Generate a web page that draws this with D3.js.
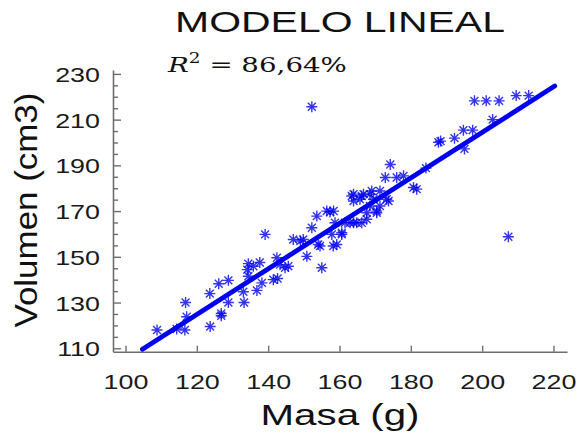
<!DOCTYPE html>
<html>
<head>
<meta charset="utf-8">
<script src="https://cdnjs.cloudflare.com/ajax/libs/d3/7.8.5/d3.min.js"></script>
<style>
  body { margin: 0; background: #fff; }
  svg { display: block; }
</style>
</head>
<body>
<script>
// masa (g) y volumen (cm3)
var masa = [108.7, 114.2, 116.5, 116.7, 117.0, 123.6, 123.5, 126.0, 126.7, 126.7,
    128.7, 128.7, 133.1, 132.9, 134.3, 135.7, 134.0, 134.3, 136.7, 138.1,
    139.0, 141.3, 142.3, 143.2, 144.6, 145.5, 142.5, 137.5, 146.9, 149.7,
    148.9, 150.7, 152.1, 153.5, 157.2, 156.3, 158.2, 154.9, 153.9, 154.4,
    159.1, 158.1, 157.7, 160.5, 160.5, 158.6, 161.4, 162.8, 164.7, 166.1,
    167.5, 163.8, 163.3, 166.1, 168.4, 168.4, 167.5, 170.3, 170.3, 163.8,
    166.6, 168.9, 171.2, 163.8, 165.6, 169.4, 173.1, 171.2, 173.6, 172.7,
    175.9, 177.8, 174.1, 181.5, 180.6, 184.1, 187.6, 188.2, 192.1, 194.6,
    197.2, 194.9, 202.8, 197.7, 201.0, 204.6, 209.4, 212.9, 207.2, 152.1]
var volumen = [118.0, 118.4, 118.0, 130.0, 123.8, 119.5, 133.9, 138.2, 124.2, 125.2,
    139.7, 130.0, 130.0, 134.7, 147.0, 145.9, 144.4, 141.5, 135.3, 138.6,
    159.8, 140.0, 149.6, 146.6, 145.2, 145.9, 140.5, 147.5, 157.6, 157.6,
    156.9, 150.2, 162.7, 167.8, 169.6, 170.0, 170.0, 145.2, 155.4, 154.7,
    155.4, 154.7, 159.8, 159.8, 160.5, 164.9, 164.9, 164.9, 164.9, 164.9,
    166.4, 164.9, 176.6, 176.6, 177.4, 172.2, 169.3, 170.0, 169.3, 177.4,
    177.4, 178.8, 178.8, 174.4, 175.2, 175.2, 175.2, 172.2, 174.4, 184.7,
    184.7, 185.4, 190.4, 179.6, 180.3, 188.8, 200.1, 200.6, 201.9, 205.4,
    205.4, 197.2, 210.0, 218.2, 218.2, 218.2, 220.5, 220.5, 158.8, 215.6]

// extremos de la recta de ajuste
var ajusteX = [104.6, 220.2]
var ajusteY = [109.6, 224.7]

var xTicks = [100, 120, 140, 160, 180, 200, 220]
var yTicks = [110, 130, 150, 170, 190, 210, 230]
var yMinor = d3.range(110, 231, 5).filter(d => d % 20 !== 10)

var width = 580
var height = 439
var axisColor = '#6e6e6e'
var blue = '#0000f0'
var stretch = 1.28

var svg = d3.select('body').append('svg')
    .attr('width', width)
    .attr('height', height)

var x = d3.scaleLinear().domain([96.35, 223.65]).range([113, 567])
var y = d3.scaleLinear().domain([108.5, 231.7]).range([351.7, 70])

// texto estirado horizontalmente hasta un ancho dado
function fitText(sel, w) {
    var n = sel.node().getComputedTextLength()
    var s = w / n
    var t = sel.attr('data-t')
    sel.attr('transform', t + ' scale(' + s + ',1)')
}

// eje Y
var yAxis = svg.append('g')
    .attr('transform', 'translate(' + x.range()[0] + ',0)')
    .call(d3.axisLeft(y).tickValues(yTicks).tickSize(-8).tickPadding(13).tickSizeOuter(0))

svg.append('g')
    .attr('transform', 'translate(' + x.range()[0] + ',0)')
    .call(d3.axisLeft(y).tickValues(yMinor).tickSize(-5).tickFormat('').tickSizeOuter(0))
    .call(g => g.select('.domain').remove())

// eje X
var xAxis = svg.append('g')
    .attr('transform', 'translate(0,' + y.range()[0] + ')')
    .call(d3.axisBottom(x).tickValues(xTicks).tickSize(-6).tickPadding(22).tickSizeOuter(0))

svg.selectAll('.domain').attr('stroke', axisColor).attr('stroke-width', 1.6)
svg.selectAll('.tick line').attr('stroke', axisColor).attr('stroke-width', 1.4)

yAxis.selectAll('.tick text')
    .attr('font-family', 'Liberation Sans, Arial, sans-serif')
    .attr('font-size', 21)
    .attr('fill', '#1a1a1a')
    .attr('dy', '0.36em')
    .attr('x', -13 / stretch)
    .attr('transform', 'scale(' + stretch + ',1)')

xAxis.selectAll('.tick text')
    .attr('font-family', 'Liberation Sans, Arial, sans-serif')
    .attr('font-size', 21)
    .attr('fill', '#1a1a1a')
    .attr('transform', 'scale(' + stretch + ',1)')
    .attr('x', 0)

xAxis.selectAll('.tick').each(function (d) {
    d3.select(this).attr('transform', 'translate(' + x(d) + ',0)')
})

// recta de ajuste
svg.append('line')
    .attr('x1', x(ajusteX[0]))
    .attr('y1', y(ajusteY[0]))
    .attr('x2', x(ajusteX[1]))
    .attr('y2', y(ajusteY[1]))
    .attr('stroke', blue)
    .attr('stroke-width', 4.8)
    .attr('stroke-linecap', 'round')

// puntos con marcador asterisco
var r = 5.5
var d2 = r * 0.72
var star = 'M' + (-r) + ',0H' + r + 'M0,' + (-r) + 'V' + r +
    'M' + (-d2) + ',' + (-d2) + 'L' + d2 + ',' + d2 +
    'M' + (-d2) + ',' + d2 + 'L' + d2 + ',' + (-d2)

svg.append('g')
    .selectAll('path')
    .data(masa.map((m, i) => [m, volumen[i]]))
    .enter()
    .append('path')
    .attr('transform', d => 'translate(' + x(d[0]) + ',' + y(d[1]) + ')')
    .attr('d', star)
    .attr('fill', 'none')
    .attr('stroke', blue)
    .attr('stroke-width', 1.4)
    .attr('stroke-opacity', 0.8)

// título
var title = svg.append('text')
    .attr('data-t', 'translate(340,32)')
    .attr('text-anchor', 'middle')
    .attr('font-family', 'Liberation Sans, Arial, sans-serif')
    .attr('font-size', 30)
    .attr('fill', '#111')
    .text('MODELO LINEAL')
fitText(title, 330)

// R^2
var r2 = svg.append('text')
    .attr('data-t', 'translate(168,72)')
    .attr('font-family', 'DejaVu Serif, Liberation Serif, serif')
    .attr('font-size', 21)
    .attr('fill', '#111')
r2.append('tspan').attr('font-style', 'italic').text('R')
r2.append('tspan').attr('dy', -9).attr('font-size', 14).text('2')
r2.append('tspan').attr('dy', 9).text(' = 86,64%')
fitText(r2, 179)

// etiquetas de ejes
var xl = svg.append('text')
    .attr('data-t', 'translate(340,425)')
    .attr('text-anchor', 'middle')
    .attr('font-family', 'Liberation Sans, Arial, sans-serif')
    .attr('font-size', 29)
    .attr('fill', '#111')
    .text('Masa (g)')
fitText(xl, 159)

var yl = svg.append('text')
    .attr('data-t', 'translate(37,210) rotate(-90)')
    .attr('text-anchor', 'middle')
    .attr('font-family', 'Liberation Sans, Arial, sans-serif')
    .attr('font-size', 31)
    .attr('fill', '#111')
    .text('Volumen (cm3)')
fitText(yl, 235)
</script>
</body>
</html>
